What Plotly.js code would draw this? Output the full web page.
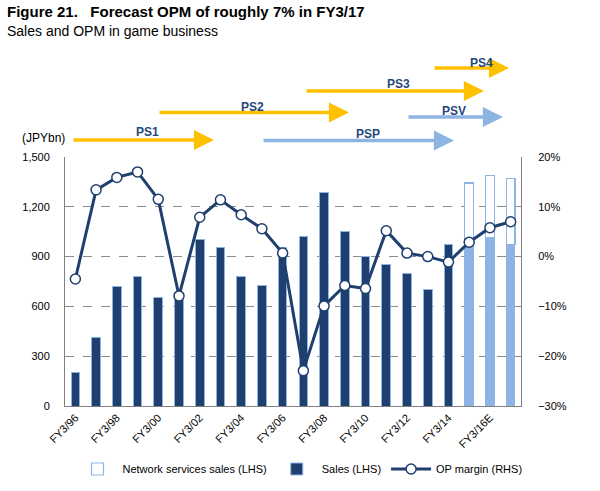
<!DOCTYPE html>
<html>
<head>
<meta charset="utf-8">
<script src="https://cdn.plot.ly/plotly-3.0.1.min.js"></script>
<style>
html,body{margin:0;padding:0;background:#fff;}
#chart{width:600px;height:491px;}
</style>
</head>
<body>
<div id="chart"></div>
<script>
// ---- data ----
const categories = ['FY3/96','FY3/97','FY3/98','FY3/99','FY3/00','FY3/01','FY3/02','FY3/03','FY3/04','FY3/05','FY3/06','FY3/07','FY3/08','FY3/09','FY3/10','FY3/11','FY3/12','FY3/13','FY3/14','FY3/15','FY3/16E','FY3/17E'];
const salesValues = [200, 415, 717, 780, 655, 660, 1005, 955, 780, 725, 955, 1020, 1285, 1050, 900, 855, 800, 700, 975, 957, 1017, 975];
const networkValues = [null,null,null,null,null,null,null,null,null,null,null,null,null,null,null,null,null,null,null, 386, 372, 396];
const opMargin = [-4.5, 13.4, 15.9, 17.0, 11.5, -7.9, 7.9, 11.4, 8.4, 5.6, 0.7, -22.9, -9.9, -5.8, -6.4, 5.2, 0.7, 0.0, -1.1, 2.9, 5.8, 7.0];
const forecastFlags = [0,0,0,0,0,0,0,0,0,0,0,0,0,0,0,0,0,0,0,1,1,1];
const tickCategories = ['FY3/96','FY3/98','FY3/00','FY3/02','FY3/04','FY3/06','FY3/08','FY3/10','FY3/12','FY3/14','FY3/16E'];
const platformNames = ['PS1','PS2','PS3','PS4','PSV','PSP'];

// ---- styles ----
const NAVY = '#1F3F6E';
const LIGHT = '#8DB4E2';
const ORANGE = '#FFC000';
const FONT = 'Liberation Sans, Arial, sans-serif';

// plot area in px
const L = 65, R = 521, T = 157, B = 406;
const W = R - L, H = B - T;
const px = x => (x - L) / W;
const py = y => (B - y) / H;

const traces = [
  {
    type: 'bar', name: 'Sales (LHS)', x: categories, y: salesValues,
    marker: {color: forecastFlags.map(f => f ? LIGHT : NAVY), line: {color: LIGHT, width: 1}},
    width: 0.42, legendrank: 2
  },
  {
    type: 'bar', name: 'Network services sales (LHS)', x: categories, y: networkValues,
    marker: {color: '#FFFFFF', line: {color: LIGHT, width: 1.2}},
    width: 0.42, legendrank: 1
  },
  {
    type: 'scatter', mode: 'lines+markers', name: 'OP margin (RHS)', x: categories, y: opMargin,
    yaxis: 'y2',
    line: {color: NAVY, width: 3},
    marker: {symbol: 'circle', size: 10, color: '#FFFFFF', line: {color: NAVY, width: 1.5}},
    legendrank: 3
  }
];

// platform arrows [tailX, tipX, y, color]
const arrowSpecs = [
  [72, 214, 140, ORANGE],
  [158, 349, 112.5, ORANGE],
  [305, 484, 91, ORANGE],
  [433, 509, 68, ORANGE],
  [407, 503, 117, LIGHT],
  [262, 454, 140.5, LIGHT]
];
const labelPos = [[147,132],[252,107],[398,84],[481,63],[454,111],[368,134]];

const annotations = [];
arrowSpecs.forEach(a => {
  annotations.push({
    xref: 'paper', yref: 'paper', x: px(a[1]), y: py(a[2]),
    ax: a[0] - a[1], ay: 0, text: '', showarrow: true,
    arrowhead: 2, arrowsize: 1.15, arrowwidth: 3.5, arrowcolor: a[3], standoff: 0
  });
});
platformNames.forEach((n, i) => {
  annotations.push({
    xref: 'paper', yref: 'paper', x: px(labelPos[i][0]), y: py(labelPos[i][1]),
    text: '<b>' + n + '</b>', showarrow: false, xanchor: 'center', yanchor: 'middle',
    font: {family: FONT, size: 12, color: '#1F497D'}
  });
});
annotations.push({
  xref: 'paper', yref: 'paper', x: px(43), y: py(138), text: '(JPYbn)', showarrow: false,
  xanchor: 'center', yanchor: 'middle', font: {family: FONT, size: 12, color: '#000'}
});
annotations.push({
  xref: 'paper', yref: 'paper', x: px(5), y: py(11), text: '<b>Figure 21.   Forecast OPM of roughly 7% in FY3/17</b>',
  showarrow: false, xanchor: 'left', yanchor: 'middle', font: {family: FONT, size: 15, color: '#000'}
});
annotations.push({
  xref: 'paper', yref: 'paper', x: px(5), y: py(31), text: 'Sales and OPM in game business',
  showarrow: false, xanchor: 'left', yanchor: 'middle', font: {family: FONT, size: 14, color: '#000'}
});

const layout = {
  width: 600, height: 491,
  margin: {l: L, r: 600 - R, t: T, b: 491 - B, pad: 0},
  paper_bgcolor: '#fff', plot_bgcolor: '#fff',
  barmode: 'stack',
  showlegend: true,
  font: {family: FONT, size: 11, color: '#000'},
  xaxis: {
    type: 'category', categoryorder: 'array', categoryarray: categories,
    tickmode: 'array', tickvals: tickCategories, ticktext: tickCategories,
    tickangle: -45, showline: true, linecolor: '#808080', linewidth: 1,
    showgrid: false, ticks: '', tickfont: {family: FONT, size: 11, color: '#000'},
    range: [-0.5, categories.length - 0.5]
  },
  yaxis: {
    range: [0, 1500], dtick: 300, tick0: 0, tickformat: ',d',
    showline: true, linecolor: '#808080', linewidth: 1,
    showgrid: true, gridcolor: '#8C8C8C', griddash: 'dash', gridwidth: 1,
    zeroline: false, ticks: '', ticklabelstandoff: 12,
    tickfont: {family: FONT, size: 11, color: '#000'}
  },
  yaxis2: {
    overlaying: 'y', side: 'right', range: [-30, 20], dtick: 10, tick0: 0,
    ticksuffix: '%', showline: true, linecolor: '#808080', linewidth: 1,
    showgrid: false, zeroline: false, ticks: '', ticklabelstandoff: 14,
    tickfont: {family: FONT, size: 11, color: '#000'}
  },
  legend: {
    orientation: 'h', traceorder: 'normal',
    xref: 'container', yref: 'container', x: 0.5, xanchor: 'center', y: 1 - 469 / 491, yanchor: 'middle',
    font: {family: FONT, size: 11, color: '#000'}, itemwidth: 40,
    bgcolor: 'rgba(0,0,0,0)'
  },
  annotations: annotations
};

Plotly.newPlot('chart', traces, layout, {displayModeBar: false, staticPlot: true});
</script>
</body>
</html>
